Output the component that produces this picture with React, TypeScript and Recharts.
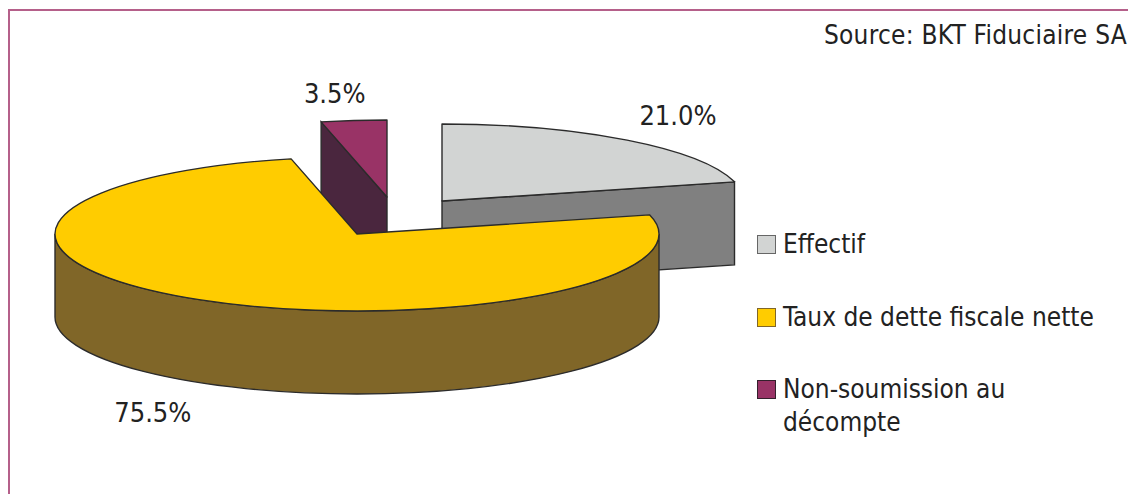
import * as React from 'react';
import { PieChart, Pie, Legend } from 'recharts';

const categories = ['Non-soumission au décompte', 'Effectif', 'Taux de dette fiscale nette'];
const values = [3.5, 21.0, 75.5];
const legendOrder = ['Effectif', 'Taux de dette fiscale nette', 'Non-soumission au décompte'];

const topColors: Record<string, string> = {
  Effectif: '#d2d4d3',
  'Taux de dette fiscale nette': '#ffcc00',
  'Non-soumission au décompte': '#993366',
};
const sideColors: Record<string, string> = {
  Effectif: '#808080',
  'Taux de dette fiscale nette': '#806628',
  'Non-soumission au décompte': '#4a263e',
};
const legendBorders: Record<string, string> = {
  Effectif: '#666',
  'Taux de dette fiscale nette': '#806628',
  'Non-soumission au décompte': '#33202c',
};
// how far each slice is pulled out of the pie
const explode: Record<string, [number, number]> = {
  Effectif: [85, -33],
  'Taux de dette fiscale nette': [0, 0],
  'Non-soumission au décompte': [30, -37],
};
const labelNudge: Record<string, [number, number]> = {
  Effectif: [0, 0],
  'Taux de dette fiscale nette': [-3, 86],
  'Non-soumission au décompte': [-10, 4],
};

const WIDTH = 1128;
const HEIGHT = 494;
const TILT = 0.255;
const DEPTH = 83;
const FONT = '"DejaVu Sans Condensed", "DejaVu Sans", sans-serif';
const FONT_SIZE = 26;
const RAD = Math.PI / 180;

const chartData = categories.map((name, i) => ({ name, value: values[i] }));

function SliceShape(props: any) {
  const { cx, cy, outerRadius, startAngle, endAngle, name } = props;
  const rx = outerRadius;
  const ry = outerRadius * TILT;
  const [ox, oy] = explode[name];
  const x0 = cx + ox;
  const y0 = cy + oy;
  const pt = (a: number) => [x0 + rx * Math.cos(a * RAD), y0 - ry * Math.sin(a * RAD)];
  const side = sideColors[name];
  const stroke = '#2b2b2b';

  const faces: React.ReactNode[] = [];
  // cut faces, only the ones turned towards the viewer
  const face = (a: number, key: string) => {
    const [x, y] = pt(a);
    faces.push(
      <path
        key={key}
        d={`M${x0},${y0}L${x},${y}L${x},${y + DEPTH}L${x0},${y0 + DEPTH}Z`}
        fill={side}
        stroke={stroke}
        strokeWidth={1.4}
      />
    );
  };
  if (Math.cos(startAngle * RAD) < -0.001) face(startAngle, 'start');
  if (Math.cos(endAngle * RAD) > 0.001) face(endAngle, 'end');

  // outer wall on the front half of the ellipse
  const hi = Math.min(startAngle, 0);
  const lo = Math.max(endAngle, -180);
  if (hi > lo) {
    const [ax, ay] = pt(hi);
    const [bx, by] = pt(lo);
    faces.push(
      <path
        key="wall"
        d={`M${ax},${ay}A${rx},${ry} 0 0 1 ${bx},${by}L${bx},${by + DEPTH}A${rx},${ry} 0 0 0 ${ax},${ay + DEPTH}Z`}
        fill={side}
        stroke={stroke}
        strokeWidth={1.4}
      />
    );
  }

  const [sx, sy] = pt(startAngle);
  const [ex, ey] = pt(endAngle);
  const large = startAngle - endAngle > 180 ? 1 : 0;
  return (
    <g>
      {faces}
      <path
        d={`M${x0},${y0}L${sx},${sy}A${rx},${ry} 0 ${large} 1 ${ex},${ey}Z`}
        fill={topColors[name]}
        stroke={stroke}
        strokeWidth={1.4}
        strokeLinejoin="round"
      />
    </g>
  );
}

function renderLabel(props: any) {
  const { cx, cy, midAngle, outerRadius, name, value } = props;
  const [ox, oy] = explode[name];
  const [nx, ny] = labelNudge[name];
  const x = cx + ox + nx + (outerRadius + 83) * Math.cos(midAngle * RAD);
  const y = cy + oy + ny - (outerRadius * TILT + 31) * Math.sin(midAngle * RAD);
  return (
    <text
      x={x}
      y={y}
      textAnchor="middle"
      dominantBaseline="central"
      fontFamily={FONT}
      fontStretch="condensed"
      fontSize={27}
      fill="#222"
    >
      {`${value.toFixed(1)}%`}
    </text>
  );
}

function LegendContent() {
  return (
    <div>
      {legendOrder.map((name) => (
        <div
          key={name}
          style={{
            position: 'relative',
            paddingLeft: 26,
            marginBottom: 39.5,
            width: 340,
            fontFamily: FONT,
            fontStretch: 'condensed',
            fontSize: FONT_SIZE,
            lineHeight: '33px',
            color: '#222',
          }}
        >
          <span
            style={{
              position: 'absolute',
              left: 0,
              top: 7,
              width: 17,
              height: 17,
              background: topColors[name],
              border: `1px solid ${legendBorders[name]}`,
            }}
          />
          {name === 'Non-soumission au décompte' ? (
            <>
              Non-soumission au
              <br />
              décompte
            </>
          ) : (
            name
          )}
        </div>
      ))}
    </div>
  );
}

export default function App() {
  return (
    <div style={{ position: 'absolute', left: 0, top: 0, width: WIDTH, height: HEIGHT, background: '#fff', overflow: 'hidden' }}>
      <div
        style={{
          position: 'absolute',
          left: 8,
          top: 9,
          width: WIDTH,
          height: HEIGHT,
          borderLeft: '2px solid #b5608a',
          borderTop: '2px solid #b5608a',
        }}
      />
      <div
        style={{
          position: 'absolute',
          right: 1,
          top: 18,
          fontFamily: FONT,
          fontStretch: 'condensed',
          fontSize: FONT_SIZE,
          letterSpacing: 0.25,
          lineHeight: '34px',
          color: '#222',
          whiteSpace: 'nowrap',
        }}
      >
        Source: BKT Fiduciaire SA
      </div>
      <PieChart
        width={WIDTH}
        height={HEIGHT}
        margin={{ top: 0, right: 0, bottom: 0, left: 0 }}
        style={{ position: 'absolute', left: 0, top: 0 }}
      >
        <Pie
          data={chartData}
          dataKey="value"
          nameKey="name"
          cx={357}
          cy={234}
          outerRadius={302}
          startAngle={90 + values[0] * 3.6}
          endAngle={90 + values[0] * 3.6 - 360}
          shape={SliceShape}
          label={renderLabel}
          labelLine={false}
          isAnimationActive={false}
        />
        <Legend
          content={<LegendContent />}
          wrapperStyle={{ position: 'absolute', left: 757, top: 228, width: 350 }}
        />
      </PieChart>
    </div>
  );
}
